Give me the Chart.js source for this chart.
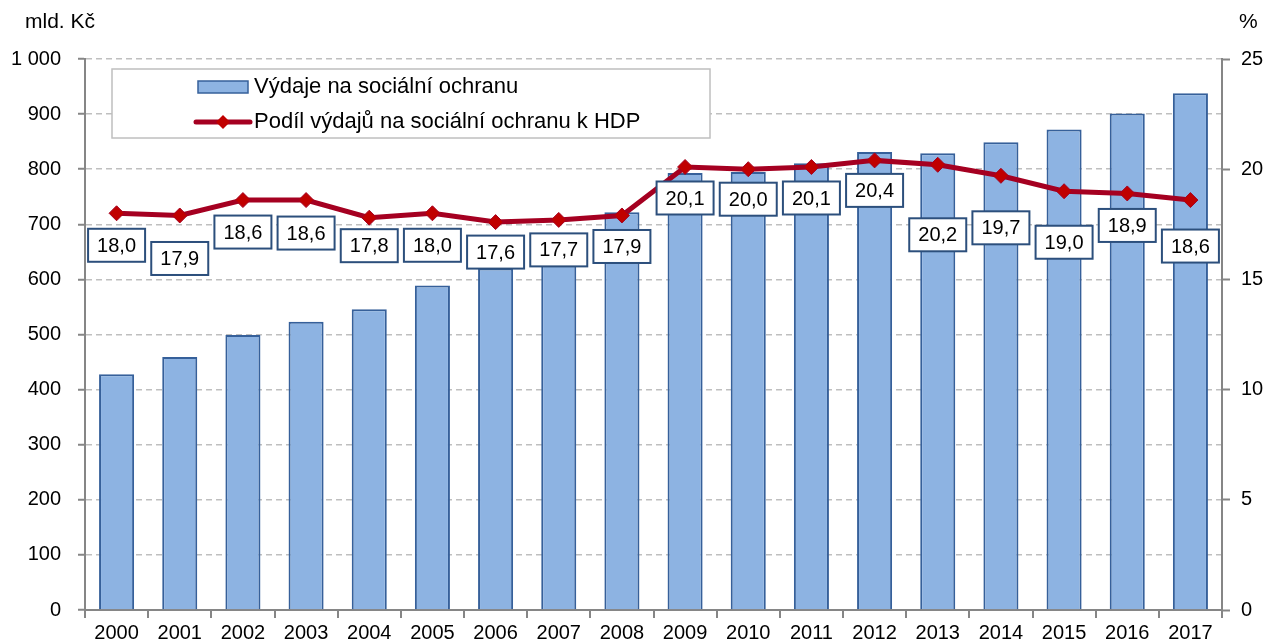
<!DOCTYPE html>
<html>
<head>
<meta charset="utf-8">
<script src="https://cdn.jsdelivr.net/npm/chart.js@4"></script>
<style>
  html, body { margin: 0; padding: 0; background: #fff; }
  #wrap { width: 1267px; height: 642px; }
</style>
</head>
<body>
<div id="wrap"><canvas id="myChart" width="1267" height="642"></canvas></div>
<script>
const years = ['2000', '2001', '2002', '2003', '2004', '2005', '2006', '2007', '2008',
  '2009', '2010', '2011', '2012', '2013', '2014', '2015', '2016', '2017'];
// výdaje na sociální ochranu, mld. Kč
const spending = [428, 459, 499, 523, 546, 589, 620, 660, 722, 793, 795, 811, 831, 829, 849, 872, 901, 938];
// podíl na HDP, %
const sharePct = [18.0, 17.9, 18.6, 18.6, 17.8, 18.0, 17.6, 17.7, 17.9, 20.1, 20.0, 20.1, 20.4, 20.2, 19.7, 19.0, 18.9, 18.6];
const seriesNames = ['Výdaje na sociální ochranu', 'Podíl výdajů na sociální ochranu k HDP'];
const leftUnit = 'mld. Kč';
const rightUnit = '%';

const FONT = '"Liberation Sans", Arial, sans-serif';
const BAR_FILL = '#8DB3E2';
const BAR_EDGE = '#36609A';
const LINE_RED = '#A50021';
const AXIS_GREY = '#868686';

// label boxes sit below the points, pushed further down where they would collide
const labelDrop = [32, 43, 32, 33, 28, 32, 30, 30, 31, 31, 30, 31, 30, 70, 52, 51, 32, 46];

const extras = {
  id: 'extras',
  afterDatasetsDraw(chart) {
    const ctx = chart.ctx;
    const meta = chart.getDatasetMeta(0); // the line
    ctx.save();
    ctx.font = '20px ' + FONT;
    ctx.textAlign = 'center';
    ctx.textBaseline = 'middle';
    meta.data.forEach((pt, i) => {
      const cx = pt.x, cy = pt.y + labelDrop[i];
      const w = 57, h = 33;
      ctx.fillStyle = '#fff';
      ctx.fillRect(cx - w / 2, cy - h / 2, w, h);
      ctx.strokeStyle = '#2C4F7C';
      ctx.lineWidth = 2;
      ctx.strokeRect(cx - w / 2, cy - h / 2, w, h);
      ctx.fillStyle = '#000';
      ctx.fillText(sharePct[i].toFixed(1).replace('.', ','), cx, cy + 1);
    });
    ctx.restore();
  },
  afterDraw(chart) {
    const ctx = chart.ctx;
    ctx.save();
    ctx.font = '21px ' + FONT;
    ctx.fillStyle = '#000';
    ctx.textBaseline = 'middle';
    ctx.textAlign = 'left';
    ctx.fillText(leftUnit, 25, 22);
    ctx.fillText(rightUnit, 1239, 22);

    // legend box
    ctx.fillStyle = '#fff';
    ctx.fillRect(112, 69, 598, 69);
    ctx.strokeStyle = '#BFBFBF';
    ctx.lineWidth = 1.5;
    ctx.strokeRect(112, 69, 598, 69);

    ctx.fillStyle = BAR_FILL;
    ctx.fillRect(198, 81, 50, 12);
    ctx.strokeStyle = BAR_EDGE;
    ctx.lineWidth = 1.5;
    ctx.strokeRect(198, 81, 50, 12);

    ctx.strokeStyle = LINE_RED;
    ctx.lineWidth = 5;
    ctx.lineCap = 'round';
    ctx.beginPath();
    ctx.moveTo(196, 122);
    ctx.lineTo(250, 122);
    ctx.stroke();
    ctx.fillStyle = '#C00000';
    ctx.beginPath();
    ctx.moveTo(223, 115);
    ctx.lineTo(230, 122);
    ctx.lineTo(223, 129);
    ctx.lineTo(216, 122);
    ctx.closePath();
    ctx.fill();

    ctx.font = '22px ' + FONT;
    ctx.fillStyle = '#000';
    ctx.fillText(seriesNames[0], 254, 87);
    ctx.fillText(seriesNames[1], 254, 122);
    ctx.restore();
  }
};

new Chart(document.getElementById('myChart'), {
  data: {
    labels: years,
    datasets: [{
      type: 'line',
      label: seriesNames[1],
      data: sharePct,
      yAxisID: 'y2',
      order: 0,
      borderColor: LINE_RED,
      borderWidth: 5,
      tension: 0,
      pointStyle: 'rectRot',
      pointRadius: 7.5,
      pointBackgroundColor: '#C00000',
      pointBorderColor: LINE_RED,
      pointBorderWidth: 1
    }, {
      type: 'bar',
      label: seriesNames[0],
      data: spending,
      yAxisID: 'y',
      order: 1,
      backgroundColor: BAR_FILL,
      borderColor: BAR_EDGE,
      borderWidth: 2,
      barPercentage: 0.555,
      categoryPercentage: 1
    }]
  },
  options: {
    responsive: false,
    animation: false,
    layout: { padding: { top: 59, bottom: 0, left: 0, right: 0 } },
    plugins: {
      legend: { display: false },
      tooltip: { enabled: false }
    },
    scales: {
      x: {
        offset: true,
        grid: { offset: true, drawOnChartArea: false, drawTicks: true, tickLength: 8, color: AXIS_GREY, lineWidth: 2 },
        border: { color: AXIS_GREY, width: 2 },
        ticks: { color: '#000', font: { family: FONT, size: 20 }, padding: 3, maxRotation: 0, autoSkip: false },
        afterFit: s => { s.height = 32; }
      },
      y: {
        position: 'left',
        min: 0,
        max: 1000,
        grid: { color: '#BFBFBF', lineWidth: 1.5, tickLength: 7, tickColor: AXIS_GREY, tickWidth: 2, tickBorderDash: [] },
        border: { color: AXIS_GREY, width: 2, dash: [6, 4] },
        ticks: {
          stepSize: 100,
          color: '#000',
          font: { family: FONT, size: 20 },
          padding: 17,
          callback: v => v >= 1000 ? String(v).replace(/\B(?=(\d{3})+(?!\d))/g, ' ') : v
        },
        afterFit: s => { s.width = 85; }
      },
      y2: {
        position: 'right',
        min: 0,
        max: 25,
        grid: { drawOnChartArea: false, tickLength: 8, tickColor: AXIS_GREY, tickWidth: 2 },
        border: { color: AXIS_GREY, width: 2 },
        ticks: { stepSize: 5, color: '#000', font: { family: FONT, size: 20 }, padding: 11 },
        afterFit: s => { s.width = 45; }
      }
    }
  },
  plugins: [extras]
});
</script>
</body>
</html>
